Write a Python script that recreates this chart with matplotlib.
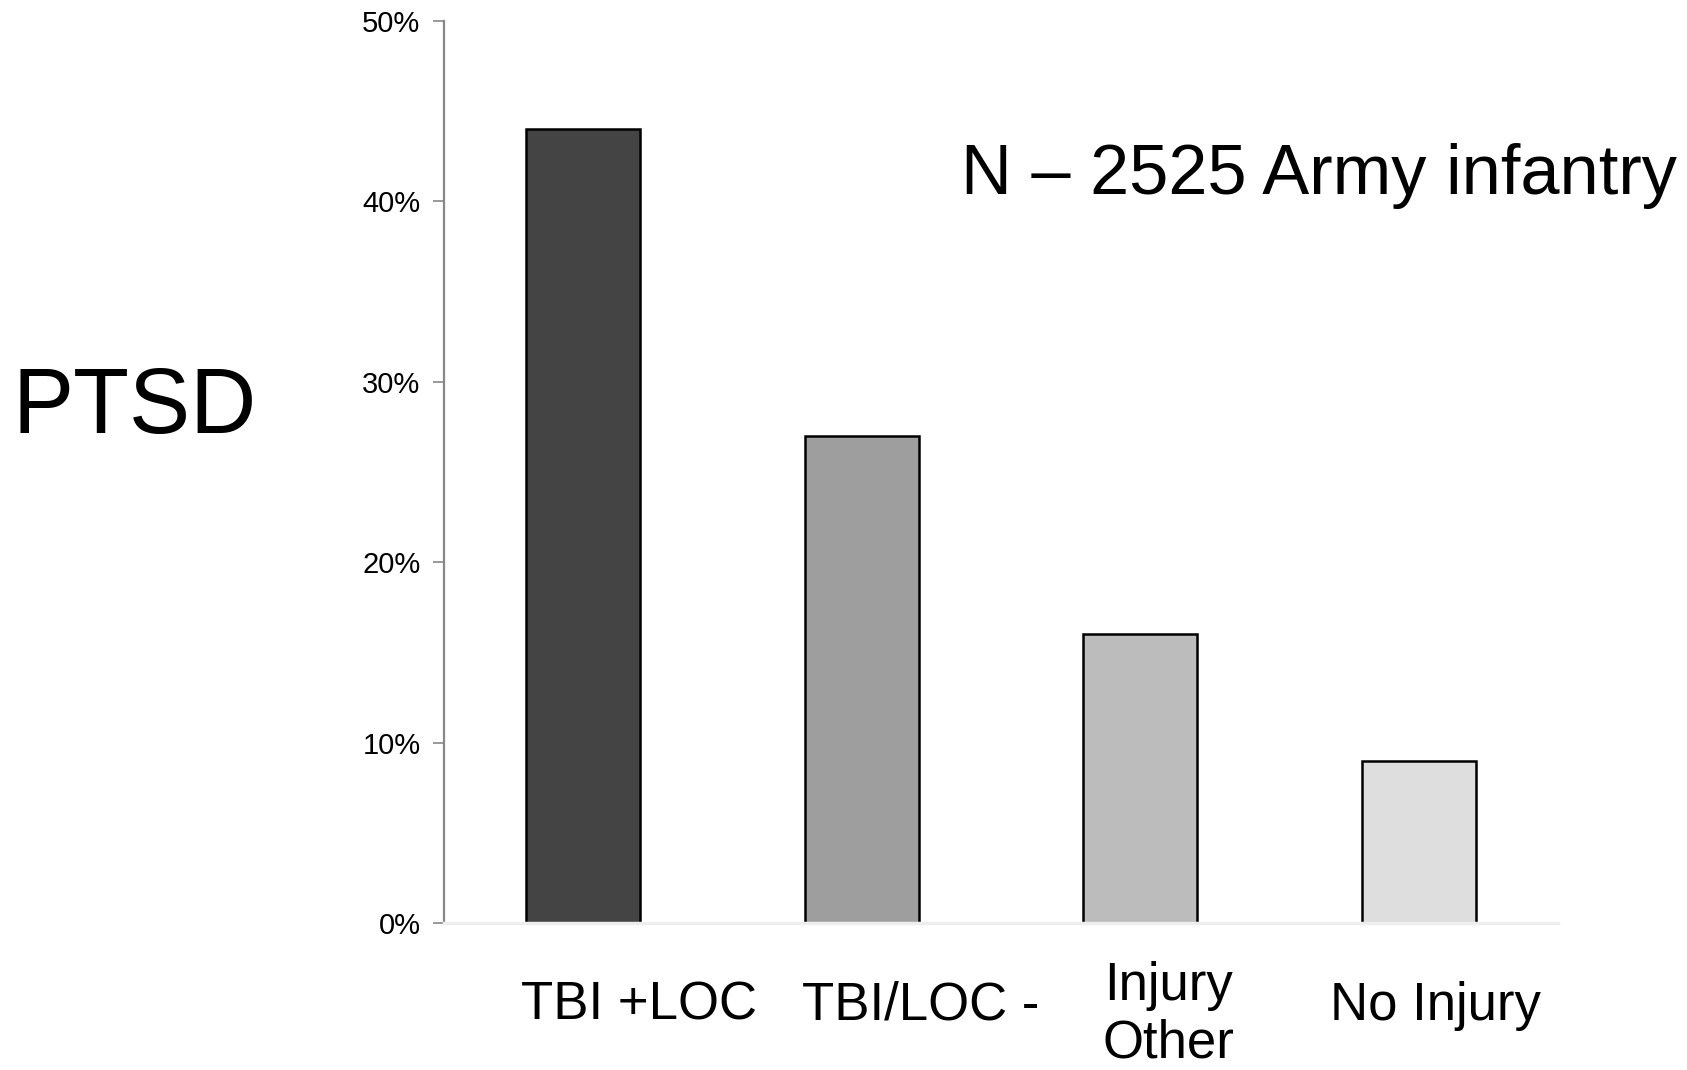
"""
PTSD rate by injury group (N - 2525 Army infantry), grey bar chart.
"""
import matplotlib
matplotlib.use("Agg")
import matplotlib.pyplot as plt
import matplotlib.transforms as mtransforms
from matplotlib.ticker import FuncFormatter

# data
categories = ["TBI +LOC", "TBI/LOC -", "Injury\nOther", "No Injury"]
ptsd_pct = [44, 27, 16, 9]
y_ticks = [0, 10, 20, 30, 40, 50]

# styling
bar_colors = ["#444444", "#9e9e9e", "#bcbcbc", "#dedede"]
label_shift = [0.20, 0.21, 0.10, 0.06]

plt.rcParams["font.family"] = ["Liberation Sans", "DejaVu Sans"]

W, H, DPI = 1687, 1070, 100
fig = plt.figure(figsize=(W / DPI, H / DPI), dpi=DPI)
ax = fig.add_axes([444 / W, 1 - 923 / H, (1558 - 444) / W, (923 - 21) / H])

x = list(range(len(categories)))
ax.bar(x, ptsd_pct, width=0.41, color=bar_colors, edgecolor="black",
       linewidth=1.8, zorder=2)

ax.set_xlim(-0.5, 3.5)
ax.set_ylim(0, 50)
ax.set_yticks(y_ticks)
ax.yaxis.set_major_formatter(FuncFormatter(lambda v, _: f"{v:.0f}%"))
ax.tick_params(axis="y", direction="out", length=8, width=1.2, color="#888888",
               labelsize=21, pad=9)
ax.set_xticks([])

for s in ["top", "right"]:
    ax.spines[s].set_visible(False)
ax.spines["left"].set_color("#888888")
ax.spines["left"].set_linewidth(1.6)
ax.spines["bottom"].set_color("#eeeeee")
ax.spines["bottom"].set_linewidth(2.5)
ax.spines["bottom"].set_zorder(3)

# category labels placed under the bars (slightly shifted, like the original slide)
trans = mtransforms.blended_transform_factory(ax.transData, fig.transFigure)
for i, (lab, dx) in enumerate(zip(categories, label_shift)):
    if "\n" in lab:
        ax.text(i + dx, 1 - 1015 / H, lab, transform=trans, ha="center",
                va="center", fontsize=38, linespacing=1.2)
    else:
        ax.text(i + dx, 1 - 1020 / H, lab, transform=trans, ha="center",
                va="baseline", fontsize=38)

fig.text(13 / W, 1 - 433 / H, "PTSD", fontsize=66, ha="left", va="baseline")
fig.text(961 / W, 1 - 194 / H, "N \u2013 2525 Army infantry", fontsize=50.7,
         ha="left", va="baseline")

fig.savefig("out.png", dpi=DPI)
